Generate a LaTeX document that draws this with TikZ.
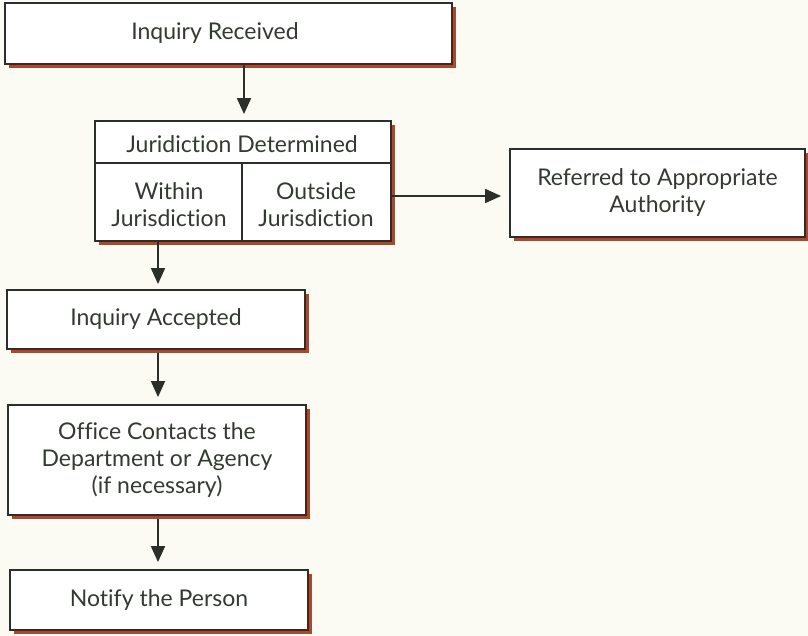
\documentclass[tikz,border=0pt]{standalone}
\usepackage{fontspec}
\setmainfont{Lato}[Ligatures={NoCommon,NoRare,NoContextual}]
\usetikzlibrary{arrows.meta,shadows}
\definecolor{bg}{HTML}{FBFAF3}
\definecolor{ink}{HTML}{2A2F2A}
\definecolor{txt}{HTML}{333A32}
\definecolor{shad}{HTML}{B0452B}
\begin{document}
\begin{tikzpicture}[x=1pt,y=-1pt,
  box/.style={draw=ink, line width=1.8pt, fill=white, text=txt, align=center,
    font=\fontsize{23}{27}\selectfont, inner sep=0pt,
    drop shadow={shadow xshift=4pt, shadow yshift=-4pt, fill=shad, opacity=1}},
  lbl/.style={text=txt, align=center, font=\fontsize{23}{27}\selectfont, inner sep=0pt},
  arr/.style={draw=ink, line width=1.8pt, -{Triangle[length=16pt,width=14pt]}}]
\fill[bg] (0,0) rectangle (808,636);
\useasboundingbox (0,0) rectangle (808,636);
\node[box, minimum width=447pt, minimum height=61pt] (recv) at (228.5,33.5) {};
\node[lbl] (recvt) at (215,33) {Inquiry Received};
\node[box, minimum width=296pt, minimum height=120pt] (jur) at (243,181) {};
\draw[ink, line width=1.6pt] (95,163) -- (391,163);
\draw[ink, line width=1.6pt] (242,163) -- (242,241);
\node[lbl] (jurt) at (242,144) {Juridiction Determined};
\node[lbl] (within) at (169,205) {Within\\Jurisdiction};
\node[lbl] (outside) at (316,205) {Outside\\Jurisdiction};
\node[box, minimum width=295pt, minimum height=88pt] (ref) at (657.5,193) {Referred to Appropriate\\Authority};
\node[box, minimum width=298pt, minimum height=59pt] (acc) at (156,319.5) {Inquiry Accepted};
\node[box, minimum width=298pt, minimum height=110pt] (cont) at (157,460) {Office Contacts the\\Department or Agency\\(if necessary)};
\node[box, minimum width=298pt, minimum height=60pt] (notify) at (159,600) {Notify the Person};
\coordinate (c1) at (244,0);
\coordinate (c2) at (158,0);
\draw[arr, shorten >=6pt] (c1 |- recv.south) -- (c1 |- jur.north);
\draw[arr, shorten >=8pt] (jur.east |- 0,196) -- (ref.west |- 0,196);
\draw[arr, shorten >=5pt] (c2 |- jur.south) -- (c2 |- acc.north);
\draw[arr, shorten >=7pt, shorten <=3pt] (c2 |- acc.south) -- (c2 |- cont.north);
\draw[arr, shorten >=7pt, shorten <=3pt] (c2 |- cont.south) -- (c2 |- notify.north);
\end{tikzpicture}
\end{document}
